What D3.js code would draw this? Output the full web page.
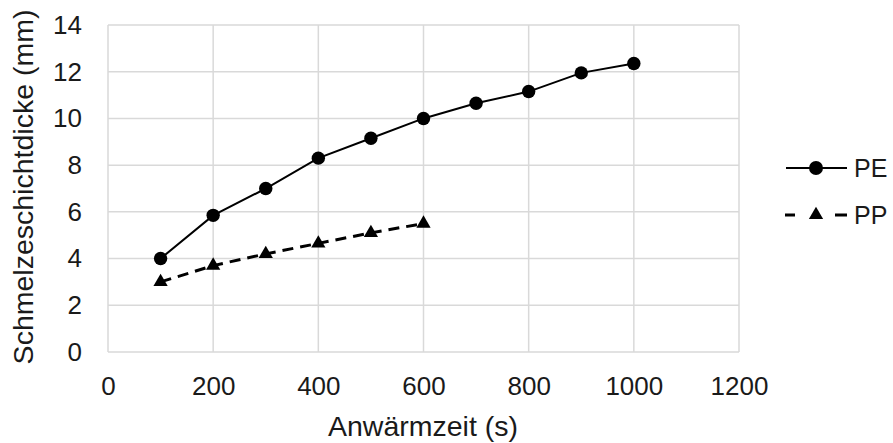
<!DOCTYPE html>
<html>
<head>
<meta charset="utf-8">
<script src="https://cdn.jsdelivr.net/npm/d3@7/dist/d3.min.js"></script>
<style>
  html, body { margin: 0; padding: 0; background: #fff; }
  svg { display: block; font-family: "Liberation Sans", Arial, sans-serif; }
</style>
</head>
<body>
<svg id="chart" width="893" height="443"></svg>
<script>
// Melt layer thickness vs. heating time
const peTime = [100, 200, 300, 400, 500, 600, 700, 800, 900, 1000];
const peThickness = [4.0, 5.85, 7.0, 8.3, 9.15, 10.0, 10.65, 11.15, 11.95, 12.35];
const ppTime = [100, 200, 300, 400, 500, 600];
const ppThickness = [3.0, 3.7, 4.2, 4.65, 5.1, 5.5];
const xTicks = [0, 200, 400, 600, 800, 1000, 1200];
const yTicks = [0, 2, 4, 6, 8, 10, 12, 14];
const seriesNames = ["PE", "PP"];

const svg = d3.select("#chart");
const plotLeft = 108, plotRight = 739, plotTop = 25, plotBottom = 352;
const tickFont = 26, titleFont = 28.5, legendFont = 25, textColor = "#1a1a1a";

const x = d3.scaleLinear().domain([0, 1200]).range([plotLeft, plotRight]);
const y = d3.scaleLinear().domain([0, 14]).range([plotBottom, plotTop]);

// grid
const grid = svg.append("g").attr("stroke", "#d9d9d9").attr("stroke-width", 1.5);
grid.selectAll("line.h").data(yTicks).join("line")
  .attr("x1", plotLeft).attr("x2", plotRight)
  .attr("y1", d => y(d)).attr("y2", d => y(d));
grid.selectAll("line.v").data(xTicks).join("line")
  .attr("y1", plotTop).attr("y2", plotBottom)
  .attr("x1", d => x(d)).attr("x2", d => x(d));

// axes
const xAxis = svg.append("g").attr("transform", `translate(0,${plotBottom})`)
  .call(d3.axisBottom(x).tickValues(xTicks).tickFormat(d3.format("d")).tickSize(0).tickPadding(25));
const yAxis = svg.append("g").attr("transform", `translate(${plotLeft},0)`)
  .call(d3.axisLeft(y).tickValues(yTicks).tickFormat(d3.format("d")).tickSize(0).tickPadding(26));
[xAxis, yAxis].forEach(a => {
  a.select(".domain").remove();
  a.attr("font-size", tickFont).attr("font-family", "Liberation Sans, Arial, sans-serif");
  a.selectAll("text").attr("fill", textColor);
});

// axis titles
svg.append("text").attr("x", 423).attr("y", 436)
  .attr("text-anchor", "middle").attr("font-size", titleFont).attr("fill", textColor)
  .text("Anwärmzeit (s)");
svg.append("text").attr("transform", "translate(33,187) rotate(-90)")
  .attr("text-anchor", "middle").attr("font-size", titleFont).attr("fill", textColor)
  .text("Schmelzeschichtdicke (mm)");

const line = d3.line().x(d => x(d[0])).y(d => y(d[1]));
const pe = peTime.map((t, i) => [t, peThickness[i]]);
const pp = ppTime.map((t, i) => [t, ppThickness[i]]);
const tri = d3.symbol().type(d3.symbolTriangle).size(88);

svg.append("path").datum(pe).attr("d", line)
  .attr("fill", "none").attr("stroke", "#000").attr("stroke-width", 2);
svg.append("path").datum(pp).attr("d", line)
  .attr("fill", "none").attr("stroke", "#000").attr("stroke-width", 3)
  .attr("stroke-dasharray", "11,7");

svg.selectAll("circle.pe").data(pe).join("circle")
  .attr("cx", d => x(d[0])).attr("cy", d => y(d[1])).attr("r", 6.7).attr("fill", "#000");
svg.selectAll("path.pp").data(pp).join("path")
  .attr("d", tri).attr("transform", d => `translate(${x(d[0])},${y(d[1])})`).attr("fill", "#000");

// legend
const lg = svg.append("g").attr("font-size", legendFont).attr("fill", textColor);
lg.append("line").attr("x1", 786).attr("x2", 847).attr("y1", 168).attr("y2", 168)
  .attr("stroke", "#000").attr("stroke-width", 2);
lg.append("circle").attr("cx", 816).attr("cy", 168).attr("r", 7).attr("fill", "#000");
lg.append("text").attr("x", 854).attr("y", 177).text(seriesNames[0]);

lg.append("line").attr("x1", 785).attr("x2", 847).attr("y1", 215).attr("y2", 215)
  .attr("stroke", "#000").attr("stroke-width", 3).attr("stroke-dasharray", "10,40,12");
lg.append("path").attr("d", tri)
  .attr("transform", "translate(816,215)").attr("fill", "#000");
lg.append("text").attr("x", 854).attr("y", 224).text(seriesNames[1]);
</script>
</body>
</html>
